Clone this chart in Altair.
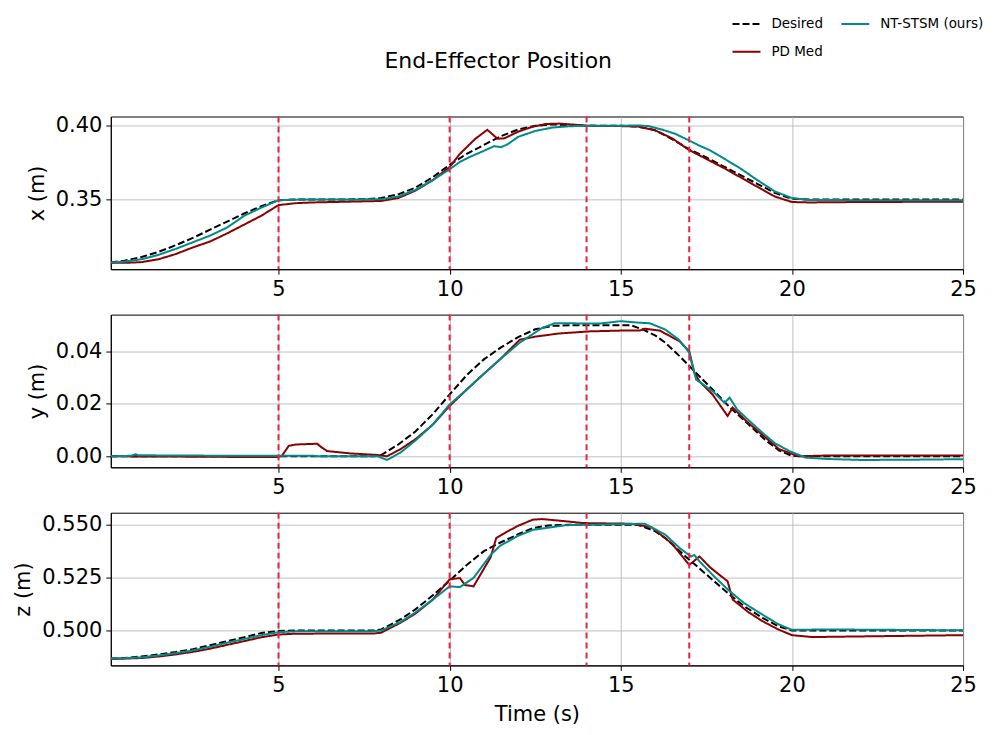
import altair as alt
import pandas as pd

# ---------------- data ----------------
SERIES = ["Desired", "PD Med", "NT-STSM (ours)"]
COLORS = ["#000000", "#8B0000", "#008B8B"]
DASHES = [[7, 3], [1, 0], [1, 0]]
VLINES = [5, 10, 14, 17]
XTICKS = [5, 10, 15, 20, 25]

# x (m)
X_DES_T = [0.1, 0.5, 1, 1.5, 2, 2.5, 3, 3.5, 4, 4.5, 5, 5.5, 6, 7, 7.5, 8, 8.5, 9, 9.5, 10, 10.5, 11, 11.5, 12,
           12.5, 13, 13.5, 14, 15, 15.5, 16, 16.5, 17, 17.5, 18, 18.5, 19, 19.5, 20, 20.5, 25]
X_DES_V = [0.3073, 0.3085, 0.3110, 0.3145, 0.3190, 0.3240, 0.3295, 0.3350, 0.3405, 0.3455, 0.3495, 0.3500,
           0.3500, 0.3500, 0.3502, 0.3510, 0.3535, 0.3580, 0.3650, 0.3735, 0.3810, 0.3870, 0.3930, 0.3975,
           0.4000, 0.4010, 0.4005, 0.4000, 0.4000, 0.3995, 0.3970, 0.3910, 0.3840, 0.3785, 0.3725, 0.3665,
           0.3605, 0.3545, 0.3505, 0.3500, 0.3500]
X_NT_T = [0.1, 0.5, 1, 1.5, 2, 2.5, 3, 3.5, 4, 4.5, 5, 5.5, 6, 7, 8, 8.5, 9, 9.5, 10, 10.3, 10.6, 11, 11.3, 11.5,
          11.7, 12, 12.5, 13, 13.5, 14, 15, 15.5, 15.8, 16.2, 16.6, 17, 17.3, 17.6, 18, 18.5, 19, 19.5, 20,
          20.5, 22, 25]
X_NT_V = [0.3073, 0.3078, 0.3095, 0.3125, 0.3165, 0.3210, 0.3255, 0.3310, 0.3390, 0.3445, 0.3495, 0.3499,
          0.3500, 0.3500, 0.3502, 0.3520, 0.3565, 0.3630, 0.3705, 0.3755, 0.3790, 0.3830, 0.3862, 0.3855,
          0.3875, 0.3925, 0.3965, 0.3988, 0.3997, 0.4000, 0.4000, 0.4003, 0.3998, 0.3975, 0.3945, 0.3900,
          0.3865, 0.3835, 0.3780, 0.3710, 0.3630, 0.3555, 0.3510, 0.3497, 0.3495, 0.3495]
X_PD_T = [0.1, 0.5, 1, 1.5, 2, 2.5, 3, 3.5, 4, 4.5, 5, 5.5, 6, 7, 8, 8.5, 9, 9.5, 10, 10.3, 10.75, 11.1, 11.4,
          11.6, 12, 12.4, 12.8, 13.2, 13.8, 14, 15, 15.5, 16, 16.5, 17, 17.5, 18, 18.5, 19, 19.5, 20, 20.5,
          22, 25]
X_PD_V = [0.3070, 0.3070, 0.3075, 0.3095, 0.3130, 0.3175, 0.3215, 0.3270, 0.3330, 0.3390, 0.3462, 0.3475,
          0.3480, 0.3485, 0.3490, 0.3510, 0.3560, 0.3630, 0.3720, 0.3810, 0.3912, 0.3973, 0.3912, 0.3915,
          0.3960, 0.3992, 0.4012, 0.4015, 0.4005, 0.4000, 0.3998, 0.3995, 0.3970, 0.3915, 0.3835, 0.3775,
          0.3715, 0.3650, 0.3585, 0.3520, 0.3483, 0.3480, 0.3483, 0.3485]

# y (m)
Y_DES_T = [0.1, 7.8, 8, 8.5, 9, 9.5, 10, 10.5, 11, 11.5, 12, 12.5, 13, 13.5, 15.3, 15.65, 16, 16.3, 16.72, 17,
           17.68, 18.2, 18.67, 19.2, 19.63, 20, 20.3, 25]
Y_DES_V = [0.0, 0.0, 0.0005, 0.0045, 0.0095, 0.0160, 0.0236, 0.0310, 0.0370, 0.0416, 0.0455, 0.0485, 0.0498,
           0.0500, 0.0500, 0.0484, 0.0462, 0.0434, 0.0382, 0.0345, 0.0255, 0.0185, 0.0130, 0.0065, 0.0022,
           0.0002, 0.0, 0.0]
Y_NT_T = [0.1, 0.7, 0.83, 0.9, 2, 4, 5, 6, 6.2, 7.9, 8.17, 8.56, 9, 9.5, 10, 10.5, 11, 11.47, 12.05, 12.7,
          13.07, 14.4, 15, 15.55, 15.85, 16.3, 16.7, 17.0, 17.2, 17.68, 18.03, 18.18, 18.4, 18.8, 19.14, 19.5,
          19.93, 20.4, 21, 22.05, 23.5, 25]
Y_NT_V = [0.0, 0.0002, 0.0008, 0.0004, 0.0003, 0.0002, 0.0002, 0.0002, 0.0, 0.0, -0.0014, 0.0014, 0.0060,
          0.0120, 0.0198, 0.0255, 0.0315, 0.0370, 0.0434, 0.0490, 0.0508, 0.0507, 0.0516, 0.0510, 0.0508,
          0.0484, 0.0445, 0.0396, 0.0293, 0.0249, 0.0204, 0.0224, 0.0179, 0.0130, 0.0090, 0.0050, 0.0020,
          -0.0005, -0.0010, -0.0014, -0.0013, -0.0011]
Y_PD_T = [0.1, 2, 4.5, 5.0, 5.1, 5.3, 5.5, 6.13, 6.25, 6.42, 7.1, 7.9, 8.17, 8.56, 9, 9.5, 10, 10.5, 11, 11.47,
          12.05, 12.5, 13.2, 14.1, 15, 15.55, 15.7, 16.14, 16.72, 17, 17.15, 17.3, 17.68, 18.12, 18.27, 18.67,
          19.2, 19.63, 20.2, 21, 25]
Y_PD_V = [0.0, -0.0001, -0.0003, -0.0003, 0.0002, 0.0040, 0.0045, 0.0048, 0.0035, 0.0020, 0.0011, 0.0005,
          0.0, 0.0027, 0.0065, 0.0120, 0.0192, 0.0255, 0.0315, 0.0370, 0.0445, 0.0457, 0.0469, 0.0477,
          0.0480, 0.0480, 0.0487, 0.0480, 0.0439, 0.0401, 0.0319, 0.0286, 0.0236, 0.0154, 0.0186, 0.0134,
          0.0075, 0.0027, 0.0, 0.0003, 0.0003]

# z (m)
Z_DES_T = [0.1, 0.5, 1, 1.5, 2, 2.5, 3, 3.5, 4, 4.5, 5, 5.5, 7.8, 8, 8.56, 9, 9.5, 10, 10.5, 11, 11.47, 12,
           12.43, 12.9, 13.5, 15.5, 16, 16.3, 17, 17.5, 18.18, 18.6, 19.14, 19.6, 20, 25]
Z_DES_V = [0.4868, 0.4870, 0.4877, 0.4887, 0.4898, 0.4912, 0.4930, 0.4950, 0.4968, 0.4988, 0.4998, 0.5000,
           0.5000, 0.5005, 0.5052, 0.5100, 0.5165, 0.5236, 0.5310, 0.5375, 0.5415, 0.5455, 0.5484, 0.5497,
           0.5500, 0.5500, 0.5470, 0.5437, 0.5335, 0.5265, 0.5170, 0.5115, 0.5060, 0.5020, 0.5000, 0.5000]
Z_NT_T = [0.1, 0.5, 1, 1.5, 2, 2.5, 3, 3.5, 4, 4.5, 5, 5.5, 7.8, 8, 8.56, 9, 9.5, 10, 10.3, 10.7, 11.2, 11.47,
          12, 12.43, 13.4, 15.7, 16.3, 16.72, 17.05, 17.15, 17.3, 17.7, 18.18, 18.6, 19.14, 19.6, 20, 21, 25]
Z_NT_V = [0.4868, 0.4869, 0.4873, 0.4882, 0.4893, 0.4906, 0.4923, 0.4942, 0.4960, 0.4978, 0.4992, 0.4996,
          0.4997, 0.5000, 0.5040, 0.5085, 0.5145, 0.5209, 0.5205, 0.5249, 0.5358, 0.5400, 0.5448, 0.5476,
          0.5498, 0.5505, 0.5453, 0.5390, 0.5350, 0.5357, 0.5327, 0.5260, 0.5186, 0.5130, 0.5075, 0.5030,
          0.5003, 0.5005, 0.5001]
Z_PD_T = [0.1, 0.5, 1, 1.5, 2, 2.5, 3, 3.5, 4, 4.5, 5, 5.5, 7.8, 8, 8.56, 9, 9.5, 10, 10.3, 10.45, 10.7, 11.2,
          11.36, 11.65, 12, 12.43, 12.7, 13.3, 13.9, 15.3, 15.9, 16.5, 17.0, 17.3, 17.6, 17.93, 18.12, 18.27,
          18.7, 19.14, 19.6, 20, 20.6, 22, 25]
Z_PD_V = [0.4866, 0.4867, 0.4870, 0.4877, 0.4887, 0.4899, 0.4914, 0.4932, 0.4950, 0.4968, 0.4981, 0.4985,
          0.4986, 0.4990, 0.5036, 0.5080, 0.5145, 0.5242, 0.5248, 0.5215, 0.5209, 0.5347, 0.5437, 0.5465,
          0.5495, 0.5524, 0.5527, 0.5518, 0.5508, 0.5505, 0.5488, 0.5410, 0.5310, 0.5350, 0.5300, 0.5257,
          0.5233, 0.5146, 0.5090, 0.5044, 0.5005, 0.4978, 0.4969, 0.4972, 0.4978]

PANELS = [
    ("x (m)", [0.3027, 0.4063], [0.35, 0.40], ".2f",
     {"Desired": (X_DES_T, X_DES_V), "NT-STSM (ours)": (X_NT_T, X_NT_V), "PD Med": (X_PD_T, X_PD_V)}),
    ("y (m)", [-0.0042, 0.0541], [0.0, 0.02, 0.04], ".2f",
     {"Desired": (Y_DES_T, Y_DES_V), "NT-STSM (ours)": (Y_NT_T, Y_NT_V), "PD Med": (Y_PD_T, Y_PD_V)}),
    ("z (m)", [0.4835, 0.5557], [0.500, 0.525, 0.550], ".3f",
     {"Desired": (Z_DES_T, Z_DES_V), "NT-STSM (ours)": (Z_NT_T, Z_NT_V), "PD Med": (Z_PD_T, Z_PD_V)}),
]

FONT = "DejaVu Sans"
W, H = 854, 153


def panel(ytitle, ydom, yvals, yfmt, series, last):
    xenc = alt.X("t:Q",
                 scale=alt.Scale(domain=[0.1, 25], nice=False, zero=False),
                 axis=alt.Axis(values=XTICKS, title="Time (s)" if last else None,
                               labelFlush=False, format="d"))
    yenc = alt.Y("v:Q",
                 scale=alt.Scale(domain=ydom, nice=False, zero=False),
                 axis=alt.Axis(values=yvals, format=yfmt, title=ytitle))
    color = alt.Color("series:N", scale=alt.Scale(domain=SERIES, range=COLORS),
                      legend=alt.Legend(title=None))
    dash = alt.StrokeDash("series:N", scale=alt.Scale(domain=SERIES, range=DASHES),
                          legend=alt.Legend(title=None))
    layers = []
    # drawing order: Desired, PD Med, NT-STSM
    for name in SERIES:
        t, v = series[name]
        df = pd.DataFrame({"t": t, "v": v, "series": name})
        layers.append(
            alt.Chart(df).mark_line(strokeWidth=2, clip=True).encode(
                x=xenc, y=yenc, color=color, strokeDash=dash, order="t:Q")
        )
    rules = alt.Chart(pd.DataFrame({"t": VLINES})).mark_rule(
        color="#E8234A", strokeDash=[6, 4], strokeWidth=2).encode(x=alt.X("t:Q"))
    layers.append(rules)
    return alt.layer(*layers).properties(width=W, height=H)


charts = [panel(p[0], p[1], p[2], p[3], p[4], i == 2) for i, p in enumerate(PANELS)]

chart = alt.vconcat(*charts, spacing=45.5, bounds="flush").resolve_scale(
    x="independent", y="independent", color="shared", strokeDash="shared"
).properties(
    title=alt.TitleParams("End-Effector Position", fontSize=22, font=FONT, fontWeight="normal",
                          anchor="middle", offset=-64, color="black"),
    padding={"left": 4, "top": 0, "right": 5, "bottom": 5},
).configure_axis(
    labelFontSize=21, titleFontSize=21, labelFont=FONT, titleFont=FONT,
    labelColor="black", titleColor="black", titleFontWeight="normal",
    tickColor="black", tickSize=5, domainColor="black", domainWidth=1,
    gridColor="#b0b0b0", gridWidth=0.8, labelPadding=4, titlePadding=8,
).configure_view(
    stroke="black", strokeWidth=1
).configure_legend(
    orient="none", legendX=622, legendY=-108, columns=2, symbolType="stroke",
    symbolSize=784, symbolStrokeWidth=2, labelFontSize=13.5, labelFont=FONT,
    labelColor="black", columnPadding=14, rowPadding=6, labelOffset=10, padding=0,
)

chart.save("out.html", embed_options={"renderer": "svg", "actions": False})
